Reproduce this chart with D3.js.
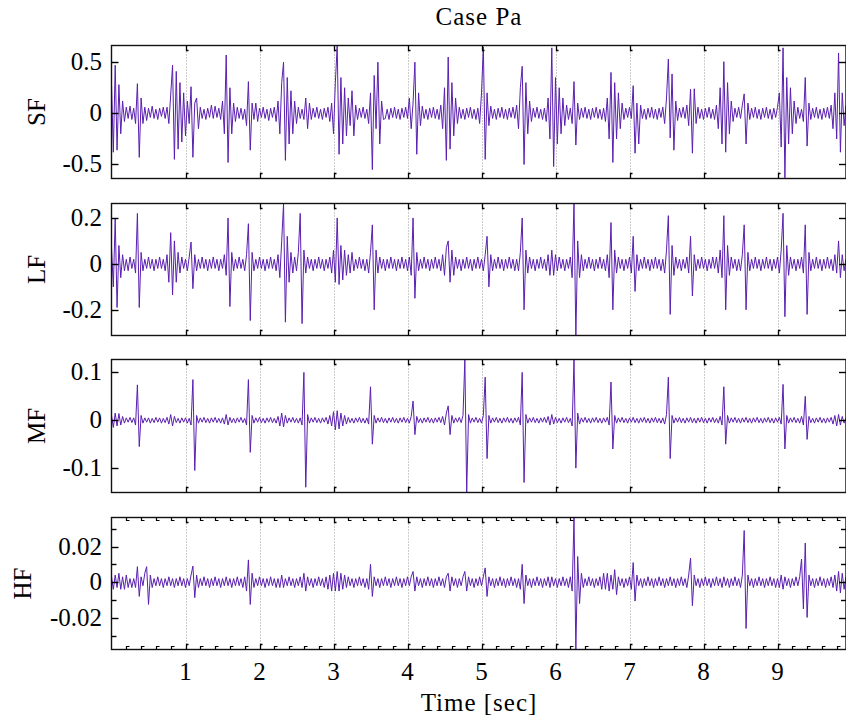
<!DOCTYPE html>
<html>
<head>
<meta charset="utf-8">
<script src="https://cdn.jsdelivr.net/npm/d3@7"></script>
<style>
  body { margin: 0; background: #fff; }
  svg { display: block; }
  text { font-family: 'Liberation Serif', 'Times New Roman', Times, serif; }
</style>
</head>
<body>
<svg id="chart" width="846" height="724"></svg>
<script>
// sample spacing of the signals (sec)
const dt = 0.025;

// SF band, one row per second
const sf = [
  .28,-.38,.47,-.36,.28,-.2,.12,-.08,.06,-.05,.07,-.06,.05,-.1,.29,-.43,.15,-.1,.06,-.07,.05,-.04,.07,-.05,.04,-.06,.05,-.03,.06,-.05,.06,-.1,.18,.47,-.45,.41,-.35,.3,-.28,.2,
  -.22,.12,-.1,.26,-.43,.1,.15,-.15,.06,-.05,.04,-.06,.05,-.04,.08,-.05,.07,-.04,.05,-.06,.12,-.2,.57,-.48,.25,-.2,.1,-.08,.06,-.05,.05,-.06,.04,-.12,.31,-.36,.1,-.06,.1,-.08,
  .05,-.04,.06,-.05,.04,-.07,.05,-.04,.06,-.08,.12,-.2,.3,.5,-.46,.35,-.3,.22,-.2,.12,-.1,.06,-.05,.04,-.06,.15,-.15,.1,-.06,.05,-.04,.06,-.05,.04,-.06,.05,-.04,.06,-.08,.1,
  -.2,.3,.66,-.4,.35,-.3,.25,-.22,.15,-.12,.22,-.22,.08,-.06,.05,-.04,.06,-.05,.04,-.1,.2,-.55,.37,-.15,.5,-.3,.12,-.06,-.05,.04,-.06,.05,-.04,.06,-.05,.04,-.06,.05,-.04,.06,
  -.05,.15,-.15,.1,.5,-.4,.2,-.12,.07,-.05,.04,-.06,.05,-.04,.06,-.05,.04,-.06,.08,-.15,.25,-.46,.55,-.35,.3,-.22,.15,-.1,.06,-.05,.04,-.06,.05,-.04,.06,-.05,.04,-.06,.05,-.1,
  .2,.65,-.45,.2,-.12,.07,-.05,.04,-.06,.05,-.04,.06,-.05,.04,-.06,.05,-.04,.06,-.05,.08,-.15,.25,.46,-.5,.3,-.2,.12,-.08,.05,-.04,.06,-.05,.04,-.06,.05,-.08,.15,-.25,.64,-.52,
  .35,-.3,.25,-.2,.15,-.12,.08,-.06,.05,-.1,.31,-.31,.1,-.06,.05,-.04,.06,-.05,.04,-.06,.05,-.04,.06,-.05,.04,-.06,.05,-.08,.15,-.25,.4,-.48,.3,-.25,.2,-.15,.1,-.06,.05,-.04,
  .06,-.05,.27,-.39,.1,-.3,.08,-.05,.04,-.06,.05,-.04,.06,-.05,.04,-.06,.05,-.04,.06,-.1,.15,.53,-.24,.385,-.36,.12,-.07,.05,-.04,.06,-.05,.08,-.12,.235,-.39,.24,-.1,.06,-.05,.04,
  -.06,.05,-.04,.06,-.05,.04,-.06,.08,-.15,.25,-.3,.505,-.38,.3,-.2,.12,-.08,.05,-.04,.06,-.05,.08,.19,-.3,.1,-.06,.05,-.04,.06,-.05,.04,-.06,.05,-.04,.06,-.05,.04,-.06,.05,-.04,
  .06,.2,-.33,.64,-.63,.35,-.3,.25,-.2,.12,-.1,.06,-.05,.04,-.08,.35,-.32,.1,-.06,.05,-.04,.06,-.05,.04,-.06,.05,-.04,.06,-.05,.08,-.15,.2,-.25,.59,-.38,.2,-.12,.08
];

// LF band
const lf = [
  .07,-.1,.2,-.19,.08,-.06,.04,-.03,.02,-.03,.03,-.02,.02,-.04,.22,-.19,.05,-.03,.02,-.02,.03,-.02,.02,-.03,.02,-.02,.03,-.02,.02,-.03,.04,-.08,.136,-.135,.1,-.08,.05,-.04,.03,-.02,
  .02,-.03,.03,.095,-.108,.04,-.03,.02,-.02,.03,-.02,.02,-.03,.02,-.02,.03,-.02,.02,-.03,.02,-.02,.04,-.05,.2,-.186,.05,-.03,.02,-.02,.03,-.02,.02,-.03,.04,.175,-.247,.05,-.03,.02,-.02,
  .03,-.02,.02,-.03,.02,-.02,.03,-.02,.02,-.03,.04,-.06,.1,.263,-.254,.12,-.08,.05,-.04,.03,-.03,.05,.22,-.26,.06,-.04,.03,-.02,.02,-.03,.02,-.02,.03,-.02,.02,-.03,.02,-.02,.03,-.04,
  .06,-.08,.2,-.09,.08,-.07,.06,-.05,.04,-.04,.05,-.03,.02,-.02,.03,-.02,.02,-.03,.02,-.04,.05,.17,-.2,.06,-.04,.03,-.02,.02,-.03,.02,-.02,.03,-.02,.02,-.03,.02,-.02,.03,-.02,.02,
  -.03,.03,-.05,.2,-.15,.05,-.03,.02,-.02,.03,-.02,.02,-.03,.02,-.02,.03,-.02,.02,-.03,.04,-.05,.07,.1,-.08,.06,-.05,.03,-.02,.02,-.03,.02,-.02,.03,-.02,.02,-.03,.02,-.02,.03,-.02,
  .02,-.03,.04,.12,-.1,.04,-.03,.02,-.02,.03,-.02,.02,-.03,.02,-.02,.03,-.02,.02,-.03,.02,-.03,.05,.2,-.2,.06,-.04,.03,-.02,.02,-.03,.02,-.02,.03,-.02,.02,-.03,.04,-.05,.06,-.05,
  .04,-.03,.03,-.02,.02,-.03,.02,-.02,.03,-.06,.27,-.32,.1,-.06,.04,-.03,.02,-.02,.03,-.02,.02,-.03,.02,-.02,.03,-.02,.02,-.03,.04,-.06,.18,-.2,.06,-.04,.03,-.02,.02,-.03,.02,-.02,
  .03,-.04,.12,-.12,.04,-.03,.02,-.02,.03,-.02,.02,-.03,.02,-.02,.03,-.02,.02,-.03,.02,-.04,.06,.21,-.22,.08,-.05,.03,-.02,.02,-.03,.02,-.02,.03,-.04,.12,-.14,.04,-.03,.02,-.02,.03,
  -.02,.02,-.03,.02,-.02,.03,-.02,.03,-.04,.06,-.06,.21,-.2,.08,-.05,.03,-.02,.02,-.03,.02,-.03,.04,.17,-.2,.05,-.03,.02,-.02,.03,-.02,.02,-.03,.02,-.02,.03,-.02,.02,-.03,.02,-.02,
  .03,-.04,.06,.22,-.23,.08,-.05,.03,-.02,.02,-.03,.02,-.02,.03,-.04,.17,-.22,.05,-.03,.02,-.02,.03,-.02,.02,-.03,.02,-.02,.03,-.02,.02,-.03,.04,-.04,.1,-.06,.04,-.03,.02
];

// MF band
const mf = [
  .01,-.015,.015,-.012,.014,-.01,.008,-.006,.005,-.004,.006,-.005,.005,-.01,.074,-.055,.01,-.006,.005,-.004,.005,-.006,.004,-.005,.006,-.004,.005,-.006,.004,-.005,.006,-.008,.012,-.012,.008,-.005,.004,-.006,.005,-.004,
  .005,-.006,.004,-.01,.085,-.105,.01,-.006,.005,-.004,.006,-.005,.004,-.006,.005,-.004,.006,-.005,.004,-.006,.005,-.008,.012,-.01,.006,-.005,.004,-.006,.005,-.004,.006,-.005,.004,-.01,.085,-.067,.01,-.006,.005,-.004,
  .006,-.005,.004,-.006,.005,-.004,.006,-.005,.004,-.006,.008,-.012,.015,-.014,.01,-.006,.005,-.004,.006,-.005,.004,-.006,.005,-.01,.1,-.14,.012,-.006,.005,-.004,.006,-.005,.004,-.006,.005,-.004,.006,-.008,.01,-.012,
  .018,-.02,.02,-.018,.015,-.012,.01,-.008,.006,-.005,.004,-.006,.005,-.004,.006,-.005,.004,-.006,.005,-.008,.07,-.05,.01,-.006,.005,-.004,.006,-.005,.004,-.006,.005,-.004,.006,-.005,.004,-.006,.005,-.004,.006,-.005,
  .004,-.006,.008,.04,-.03,.008,-.005,.004,-.006,.005,-.004,.006,-.005,.004,-.006,.005,-.004,.006,-.005,.008,-.01,.015,.03,-.03,.01,-.006,.005,-.004,.006,-.005,.01,.127,-.151,.012,-.006,.005,-.004,.006,-.005,.004,
  -.006,.01,.09,-.08,.01,-.006,.005,-.004,.006,-.005,.004,-.006,.005,-.004,.006,-.005,.004,-.006,.005,-.004,.006,-.01,.1,-.13,.012,-.006,.005,-.004,.006,-.005,.004,-.006,.005,-.004,.006,-.005,.008,-.01,.012,-.008,
  .006,-.005,.004,-.006,.005,-.004,.006,-.005,.004,-.012,.127,-.1,.015,-.008,.005,-.004,.006,-.005,.004,-.006,.005,-.004,.006,-.005,.004,-.006,.005,-.004,.006,-.01,.08,-.06,.01,-.006,.005,-.004,.006,-.005,.004,-.006,
  .005,-.004,.006,-.005,.004,-.006,.005,-.004,.006,-.005,.004,-.006,.005,-.004,.006,-.005,.004,-.006,.005,-.008,.012,.09,-.08,.01,-.006,.005,-.004,.006,-.005,.004,-.006,.005,-.004,.006,-.005,.004,-.006,.005,-.004,.006,
  -.005,.004,-.006,.005,-.004,.006,-.005,.004,-.006,.008,-.01,.07,-.05,.01,-.006,.005,-.004,.006,-.005,.004,-.006,.005,-.004,.006,-.005,.004,-.006,.005,-.004,.006,-.005,.004,-.006,.005,-.004,.006,-.005,.004,-.006,.005,
  -.004,.006,-.008,.075,-.06,.01,-.006,.005,-.004,.006,-.005,.004,-.006,.008,-.01,.05,-.04,.008,-.005,.004,-.006,.005,-.004,.006,-.005,.004,-.006,.005,-.004,.006,-.008,.01,-.012,.012,-.01,.008,-.006,.005
];

// HF band
const hf = [
  .003,-.004,.004,-.003,.005,-.004,.003,-.004,.004,-.003,.002,-.003,.002,-.003,.0087,-.008,.003,-.002,.005,.0087,-.0125,.004,-.003,.002,-.002,.003,-.002,.002,-.003,.002,-.002,.003,-.002,.002,-.003,.002,-.002,.003,-.002,.002,
  -.003,.002,-.002,.004,.009,-.0087,.004,-.003,.002,-.002,.003,-.002,.002,-.003,.002,-.002,.003,-.002,.002,-.003,.002,-.002,.003,-.002,.002,-.003,.002,-.002,.003,-.002,.002,-.003,.003,-.005,.0125,-.0125,.005,-.003,.002,-.002,
  .003,-.002,.002,-.003,.002,-.002,.003,-.002,.002,-.003,.002,-.003,.004,-.003,.002,-.002,.003,-.002,.002,-.003,.002,-.002,.003,-.003,.005,-.005,.003,-.002,.002,-.003,.002,-.002,.003,-.002,.002,-.003,.003,-.004,.004,-.005,
  .005,-.005,.006,-.005,.005,-.004,.004,-.003,.003,-.002,.002,-.003,.002,-.002,.003,-.002,.002,-.003,.002,-.004,.01,-.008,.003,-.002,.002,-.003,.002,-.002,.003,-.002,.002,-.003,.002,-.002,.003,-.002,.002,-.003,.002,-.002,
  .003,-.002,.003,.006,-.005,.003,-.002,.002,-.003,.002,-.002,.003,-.002,.002,-.003,.002,-.002,.003,-.002,.002,-.003,.003,.005,-.005,.003,-.002,.002,-.003,.002,-.002,.003,.006,-.005,.003,-.002,.002,-.003,.002,-.002,.003,
  -.002,.003,.008,-.008,.003,-.002,.002,-.003,.002,-.002,.003,-.002,.002,-.003,.002,-.002,.003,-.002,.002,-.003,.002,-.004,.01,-.012,.004,-.002,.002,-.003,.002,-.002,.003,-.002,.002,-.003,.002,-.002,.003,-.003,.003,-.002,
  .002,-.003,.002,-.002,.003,-.002,.002,-.003,.003,-.005,.0363,-.0378,.0144,-.012,.005,-.003,.002,-.002,.003,-.002,.002,-.003,.002,-.002,.003,-.004,.005,-.004,.005,-.005,.004,-.004,.007,-.007,.003,-.002,.002,-.003,.002,-.002,
  .003,-.004,.011,-.0106,.004,-.002,.002,-.003,.002,-.002,.003,-.002,.002,-.003,.002,-.002,.003,-.002,.002,-.003,.002,-.002,.003,-.002,.002,-.003,.002,-.002,.003,-.002,.002,-.003,.004,.0135,-.0132,.004,-.002,.002,-.003,.002,
  -.002,.003,-.002,.002,-.003,.002,-.002,.003,-.002,.002,-.003,.003,-.002,.002,-.003,.002,-.002,.003,-.002,.002,-.003,.004,.029,-.026,.004,-.002,.002,-.003,.002,-.002,.003,-.002,.002,-.003,.002,-.002,.003,-.002,.002,-.003,
  .002,-.003,.004,-.004,.003,-.002,.002,-.003,.002,-.002,.003,-.002,.003,.013,-.015,.022,-.0198,.004,-.002,.002,-.003,.002,-.002,.003,-.002,.002,-.003,.002,-.002,.003,-.003,.004,-.005,.006,-.006,.005,-.004,.003
];

const bandNames = ["SF", "LF", "MF", "HF"];
const bandData = [sf, lf, mf, hf];
const yDomains = [[-0.637, 0.663], [-0.312, 0.263], [-0.151, 0.127], [-0.0378, 0.0363]];
const yTickValues = [[-0.5, 0, 0.5], [-0.2, 0, 0.2], [-0.1, 0, 0.1], [-0.02, 0, 0.02]];
const yTickLabels = [["-0.5", "0", "0.5"], ["-0.2", "0", "0.2"], ["-0.1", "0", "0.1"], ["-0.02", "0", "0.02"]];
const hfMinorY = [-0.03, -0.01, 0.01, 0.03];
const xTickValues = [1, 2, 3, 4, 5, 6, 7, 8, 9];
const xTickLabels = ["1", "2", "3", "4", "5", "6", "7", "8", "9"];
const hfMinorX = [0.2,0.4,0.6,0.8,1.2,1.4,1.6,1.8,2.2,2.4,2.6,2.8,3.2,3.4,3.6,3.8,4.2,4.4,4.6,4.8,5.2,5.4,5.6,5.8,6.2,6.4,6.6,6.8,7.2,7.4,7.6,7.8,8.2,8.4,8.6,8.8,9.2,9.4,9.6,9.8];

const svg = d3.select("#chart");
const font = "Liberation Serif";
const left = 111.5, right = 846;
const panels = [[45.5, 178.5], [203.5, 335.5], [359.5, 492.5], [517.5, 649.5]];
const labelX = [36, 36, 36, 22];
const lineColor = "#5a1fb0";

const x = d3.scaleLinear().domain([0, (right - left) / 74]).range([left, right]);

svg.append("text")
  .attr("x", 479).attr("y", 25)
  .attr("text-anchor", "middle")
  .attr("font-family", font)
  .attr("font-size", 25).attr("letter-spacing", 1)
  .text("Case Pa");

panels.forEach(function(p, k) {
  let top = p[0], bot = p[1];
  let y = d3.scaleLinear().domain(yDomains[k]).range([bot, top]);
  let g = svg.append("g");

  g.append("clipPath").attr("id", "clip" + k)
    .append("rect").attr("x", left).attr("y", top).attr("width", right - left).attr("height", bot - top);

  // dotted grid at each second
  g.selectAll(".grid").data(xTickValues).enter().append("line")
    .attr("x1", d => Math.round(x(d)) + 0.5).attr("x2", d => Math.round(x(d)) + 0.5)
    .attr("y1", top).attr("y2", bot)
    .attr("stroke", "#999").attr("stroke-width", 1)
    .attr("stroke-dasharray", "1,2");

  let line = d3.line()
    .x((d, i) => x(i * dt))
    .y(d => y(d));

  g.append("path")
    .datum(bandData[k])
    .attr("clip-path", "url(#clip" + k + ")")
    .attr("fill", "none")
    .attr("stroke", lineColor)
    .attr("stroke-width", 1)
    .attr("d", line);

  // frame
  g.append("rect")
    .attr("x", left).attr("y", top)
    .attr("width", right - left).attr("height", bot - top)
    .attr("fill", "none").attr("stroke", "#111").attr("stroke-width", 1.4);

  // x ticks top/bottom, pointing in
  g.selectAll(".tt").data(xTickValues).enter().append("path")
    .attr("d", d => `M${Math.round(x(d)) + 0.5},${top}v5h2`)
    .attr("fill", "none").attr("stroke", "#000").attr("stroke-width", 1.3);
  g.selectAll(".tb").data(xTickValues).enter().append("path")
    .attr("d", d => `M${Math.round(x(d)) + 0.5},${bot}v-5h2`)
    .attr("fill", "none").attr("stroke", "#000").attr("stroke-width", 1.3);

  // y ticks left/right
  g.selectAll(".yl").data(yTickValues[k]).enter().append("path")
    .attr("d", d => `M${left},${Math.round(y(d)) + 0.5}h7`)
    .attr("stroke", "#000").attr("stroke-width", 1.4);
  g.selectAll(".yr").data(yTickValues[k]).enter().append("path")
    .attr("d", d => `M${right},${Math.round(y(d)) + 0.5}h-7`)
    .attr("stroke", "#000").attr("stroke-width", 1.4);

  if (k == 3) {
    g.selectAll(".mt").data(hfMinorX).enter().append("path")
      .attr("d", d => `M${Math.round(x(d)) + 0.5},${top}v3h3`)
      .attr("fill", "none").attr("stroke", "#000").attr("stroke-width", 1.2);
    g.selectAll(".mb").data(hfMinorX).enter().append("path")
      .attr("d", d => `M${Math.round(x(d)) + 0.5},${bot}v-3h3`)
      .attr("fill", "none").attr("stroke", "#000").attr("stroke-width", 1.2);
    g.selectAll(".myl").data(hfMinorY).enter().append("path")
      .attr("d", d => `M${left},${Math.round(y(d)) + 0.5}h5`)
      .attr("stroke", "#000").attr("stroke-width", 1.4);
    g.selectAll(".myr").data(hfMinorY).enter().append("path")
      .attr("d", d => `M${right},${Math.round(y(d)) + 0.5}h-5`)
      .attr("stroke", "#000").attr("stroke-width", 1.4);

    g.selectAll(".xl").data(xTickValues).enter().append("text")
      .attr("x", d => x(d)).attr("y", 680)
      .attr("text-anchor", "middle")
      .attr("font-family", font).attr("font-size", 25)
      .text((d, i) => xTickLabels[i]);
  }

  // y tick labels
  g.selectAll(".ylab").data(yTickValues[k]).enter().append("text")
    .attr("x", 102).attr("y", d => y(d) + 8)
    .attr("text-anchor", "end")
    .attr("font-family", font).attr("font-size", 25)
    .text((d, i) => yTickLabels[k][i]);

  // band name
  g.append("text")
    .attr("transform", `translate(${labelX[k]},${(top + bot) / 2}) rotate(-90)`)
    .attr("text-anchor", "middle").attr("dy", "0.35em")
    .attr("font-family", font).attr("font-size", 25)
    .text(bandNames[k]);
});

svg.append("text")
  .attr("x", 479).attr("y", 711)
  .attr("text-anchor", "middle")
  .attr("font-family", font)
  .attr("font-size", 25).attr("letter-spacing", 1)
  .text("Time [sec]");
</script>
</body>
</html>
